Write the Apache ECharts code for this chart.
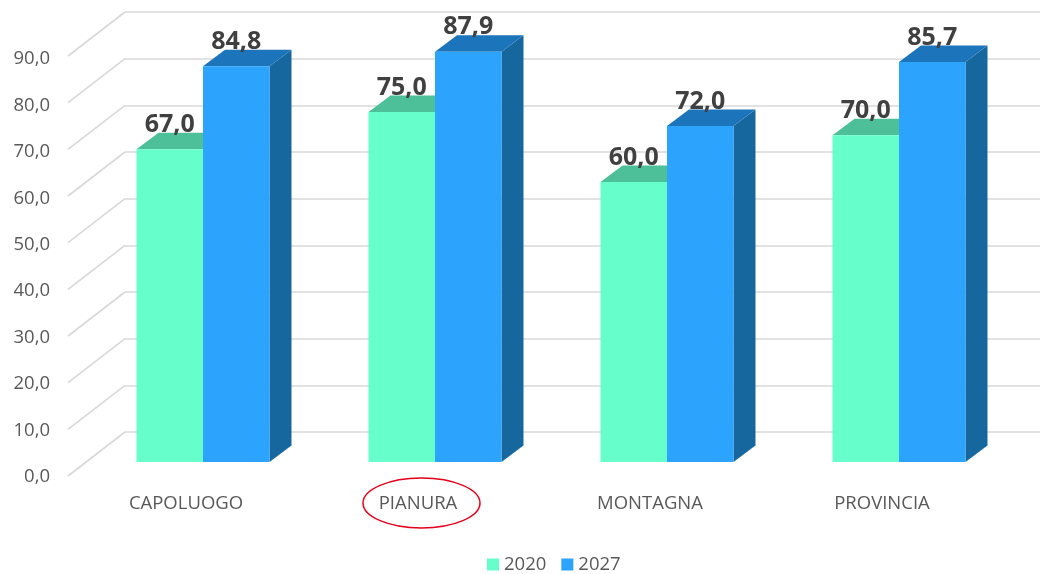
<!DOCTYPE html>
<html>
<head>
<meta charset="utf-8">
<style>
  html, body { margin: 0; padding: 0; background: #fff; }
  #chart { width: 1042px; height: 574px; }
</style>
<script src="https://cdn.jsdelivr.net/npm/echarts@6/dist/echarts.min.js"></script>
</head>
<body>
<div id="chart"></div>
<script>
const categories = ['CAPOLUOGO', 'PIANURA', 'MONTAGNA', 'PROVINCIA']
const values2020 = [67.0, 75.0, 60.0, 70.0]
const values2027 = [84.8, 87.9, 72.0, 85.7]
const ticks = [0, 10, 20, 30, 40, 50, 60, 70, 80, 90]

const fontFamily = '"Open Sans", sans-serif'
const fmt = v => v.toFixed(1).replace('.', ',')

// box depth, in pixels, of the fake 3D look
const depthX = 22
const depthY = 16.5

// one box: front face, top and right side, value label on top
const boxRenderer = (side, front, top, right) => (params, api) => {
  const base = api.coord([api.value(0), 0])
  const head = api.coord([api.value(0), api.value(1)])
  const w = api.size([1, 0])[0] * 0.2866
  const x0 = base[0] + side * w
  const x1 = x0 + w
  const y0 = head[1]
  const y1 = base[1]
  return {
    type: 'group',
    children: [
      { type: 'polygon', shape: { points: [[x1, y0], [x1 + depthX, y0 - depthY], [x1 + depthX, y1 - depthY], [x1, y1]] }, style: { fill: right } },
      { type: 'polygon', shape: { points: [[x0, y0], [x1, y0], [x1 + depthX, y0 - depthY], [x0 + depthX, y0 - depthY]] }, style: { fill: top } },
      { type: 'rect', shape: { x: x0, y: y0, width: w, height: y1 - y0 }, style: { fill: front } },
      {
        type: 'text',
        z2: 10,
        style: {
          x: x0 + w / 2, y: y0 - 24.5,
          text: fmt(api.value(1)),
          fill: '#404040',
          font: 'bold 25px ' + fontFamily,
          align: 'center', verticalAlign: 'middle'
        }
      }
    ]
  }
}

// diagonal lines from the label plane back to the wall
const diagonalRenderer = (params, api) => {
  const p = api.coord([0, api.value(0)])
  const x = params.coordSys.x
  return {
    type: 'line',
    shape: { x1: x - 2, y1: p[1], x2: x + 55, y2: p[1] - 44 },
    style: { stroke: '#d9d9d9', lineWidth: 1.6, fill: null }
  }
}

const hiddenX = { type: 'category', data: categories, show: false }
const hiddenY = { type: 'value', min: 0, max: 90, interval: 10, show: false }

const option = {
  animation: false,
  backgroundColor: '#fff',
  textStyle: { fontFamily },
  grid: [
    { left: 125, width: 915, top: 12, height: 420 },   // back wall
    { left: 70, width: 928, top: 56, height: 420 },    // diagonals, category labels
    { left: 87, width: 928, top: 42, height: 420 },    // bars
    { left: 70, width: 928, top: 59, height: 418 }     // value labels
  ],
  xAxis: [
    { ...hiddenX, gridIndex: 0 },
    {
      type: 'category', gridIndex: 1, data: categories,
      axisLine: { show: false }, axisTick: { show: false },
      axisLabel: { color: '#595959', fontSize: 18.5, fontFamily, margin: 18 }
    },
    { ...hiddenX, gridIndex: 2 },
    { ...hiddenX, gridIndex: 3 }
  ],
  yAxis: [
    {
      ...hiddenY, gridIndex: 0, show: true,
      axisLine: { show: false }, axisTick: { show: false }, axisLabel: { show: false },
      splitLine: { show: true, lineStyle: { color: '#d9d9d9', width: 1.6 } }
    },
    { ...hiddenY, gridIndex: 1 },
    { ...hiddenY, gridIndex: 2 },
    {
      ...hiddenY, gridIndex: 3, show: true,
      axisLine: { show: false }, axisTick: { show: false }, splitLine: { show: false },
      axisLabel: { color: '#595959', fontSize: 18.5, fontFamily, margin: 20, formatter: fmt }
    }
  ],
  legend: {
    data: ['2020', '2027'],
    left: 487, top: 555,
    padding: 0,
    itemWidth: 12, itemHeight: 12, itemGap: 15,
    icon: 'rect',
    textStyle: { color: '#595959', fontSize: 18.5, fontFamily }
  },
  series: [
    {
      type: 'custom', name: 'grid', xAxisIndex: 1, yAxisIndex: 1, silent: true,
      data: ticks.map(t => [t]), encode: { y: 0 },
      renderItem: diagonalRenderer, clip: false
    },
    {
      type: 'custom', name: '2020', xAxisIndex: 2, yAxisIndex: 2, clip: false,
      itemStyle: { color: '#66ffcc' },
      data: values2020.map((v, i) => [i, v]), encode: { x: 0, y: 1 },
      renderItem: boxRenderer(-1, '#66ffcc', '#4dbf99', '#4dbf99')
    },
    {
      type: 'custom', name: '2027', xAxisIndex: 2, yAxisIndex: 2, clip: false,
      itemStyle: { color: '#2ca3fc' },
      data: values2027.map((v, i) => [i, v]), encode: { x: 0, y: 1 },
      renderItem: boxRenderer(0, '#2ca3fc', '#1c74bb', '#17679f')
    }
  ],
  // red hand-drawn circle around PIANURA
  graphic: [{
    type: 'ellipse',
    shape: { cx: 421.5, cy: 503, rx: 58.5, ry: 25 },
    style: { fill: null, stroke: '#e2001a', lineWidth: 1.5 }
  }]
}

const chart = echarts.init(document.getElementById('chart'))
chart.setOption(option)
</script>
</body>
</html>
